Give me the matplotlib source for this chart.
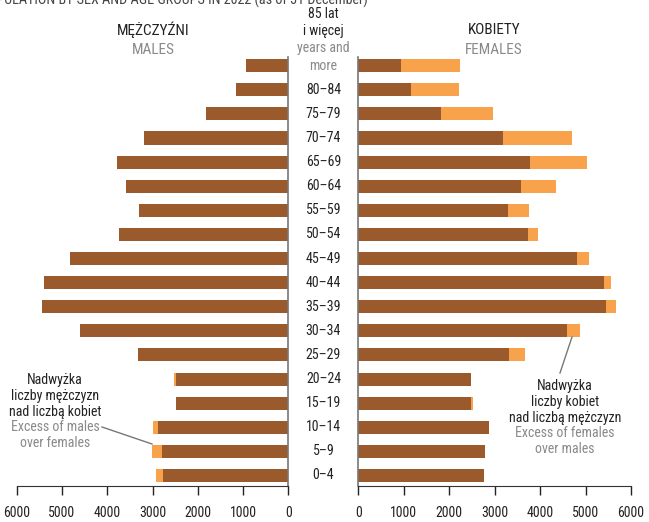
import numpy as np
import matplotlib
matplotlib.use("Agg")
from matplotlib import pyplot as plt
from matplotlib import transforms
from matplotlib import font_manager

names = set(f.name for f in font_manager.fontManager.ttflist)
fam = [n for n in ['Roboto Condensed', 'Open Sans Condensed', 'Liberation Sans Narrow',
                   'Liberation Sans'] if n in names] + ['DejaVu Sans']
plt.rcParams['font.family'] = fam

ages = ['0–4', '5–9', '10–14', '15–19', '20–24', '25–29', '30–34', '35–39',
        '40–44', '45–49', '50–54', '55–59', '60–64', '65–69', '70–74',
        '75–79', '80–84', '85+']
males = [2925, 3010, 2990, 2485, 2530, 3320, 4600, 5440, 5400, 4820,
         3740, 3300, 3590, 3785, 3190, 1820, 1160, 935]
females = [2770, 2790, 2880, 2520, 2480, 3668, 4878, 5670, 5560, 5076,
           3954, 3756, 4350, 5032, 4702, 2963, 2216, 2238]
ticks = [0, 1000, 2000, 3000, 4000, 5000, 6000]

dark = '#9B5A2B'
light = '#F8A24B'
gray = '#8a8a8a'
txt = '#222222'

m = np.array(males)
f = np.array(females)
common = np.minimum(m, f)
y = np.arange(len(ages))

W, H = 649, 522
fig = plt.figure(figsize=(W / 100, H / 100), dpi=100)

def px(x0, y0, x1, y1):
    return [x0 / W, 1 - y1 / H, (x1 - x0) / W, (y1 - y0) / H]

axl = fig.add_axes(px(16.7, 57, 288.3, 486))
axr = fig.add_axes(px(358.3, 57, 631, 486))

bh = 0.54
axl.barh(y, common, height=bh, color=dark)
axl.barh(y, np.clip(m - f, 0, None), left=common, height=bh, color=light)
axr.barh(y, common, height=bh, color=dark)
axr.barh(y, np.clip(f - m, 0, None), left=common, height=bh, color=light)

axl.set_xlim(6000, 0)
axr.set_xlim(0, 6000)
for ax in (axl, axr):
    ax.set_ylim(-0.436, 17.36)
    ax.set_yticks([])
    ax.set_xticks(ticks)
    ax.tick_params(axis='x', length=6.5, width=1, pad=8, labelsize=10, colors=txt)
    ax.spines['top'].set_visible(False)
    ax.spines['bottom'].set_color('#333333')
axl.spines['left'].set_visible(False)
axl.spines['right'].set_color('#777777')
axl.spines['right'].set_linewidth(1.2)
axr.spines['right'].set_visible(False)
axr.spines['left'].set_color('#777777')
axr.spines['left'].set_linewidth(1.2)

# age labels in the middle column
tr = transforms.blended_transform_factory(fig.transFigure, axl.transData)
xc = 323.5 / W
fs = 10
for i, a in enumerate(ages[:-1]):
    fig.text(xc, i, a, transform=tr, ha='center', va='center', fontsize=fs, color=txt)

def ftext(x, yy, s, **kw):
    fig.text(x / W, 1 - yy / H, s, ha='center', va='center', **kw)

ftext(323.5, 14, '85 lat', fontsize=fs, color=txt)
ftext(323.5, 31, 'i więcej', fontsize=fs, color=txt)
ftext(323.5, 48, 'years and', fontsize=fs, color=gray)
ftext(323.5, 66, 'more', fontsize=fs, color=gray)

ftext(153, 30, 'MĘŻCZYŹNI', fontsize=11, color=txt)
ftext(153, 50, 'MALES', fontsize=11, color=gray)
ftext(494, 30, 'KOBIETY', fontsize=11, color=txt)
ftext(494, 50, 'FEMALES', fontsize=11, color=gray)

fig.text(368 / W, 1 - 0 / H, 'POPULATION BY SEX AND AGE GROUPS IN 2022 (as of 31 December)',
         ha='right', va='center', fontsize=10.2, color='#444444')

# annotations
for k, (s, c) in enumerate([('Nadwyżka', txt), ('liczby mężczyzn', txt),
                            ('nad liczbą kobiet', txt), ('Excess of males', gray),
                            ('over females', gray)]):
    ftext(55, 380 + k * 15.8, s, fontsize=fs, color=c)
for k, (s, c) in enumerate([('Nadwyżka', txt), ('liczby kobiet', txt),
                            ('nad liczbą mężczyzn', txt), ('Excess of females', gray),
                            ('over males', gray)]):
    ftext(565, 386 + k * 15.8, s, fontsize=fs, color=c)

fig.add_artist(plt.Line2D([102 / W, 152 / W], [1 - 427 / H, 1 - 444 / H],
                          color='#777777', lw=1))
fig.add_artist(plt.Line2D([572 / W, 560 / W], [1 - 337 / H, 1 - 373 / H],
                          color='#777777', lw=1))

fig.savefig('out.png', dpi=100)
